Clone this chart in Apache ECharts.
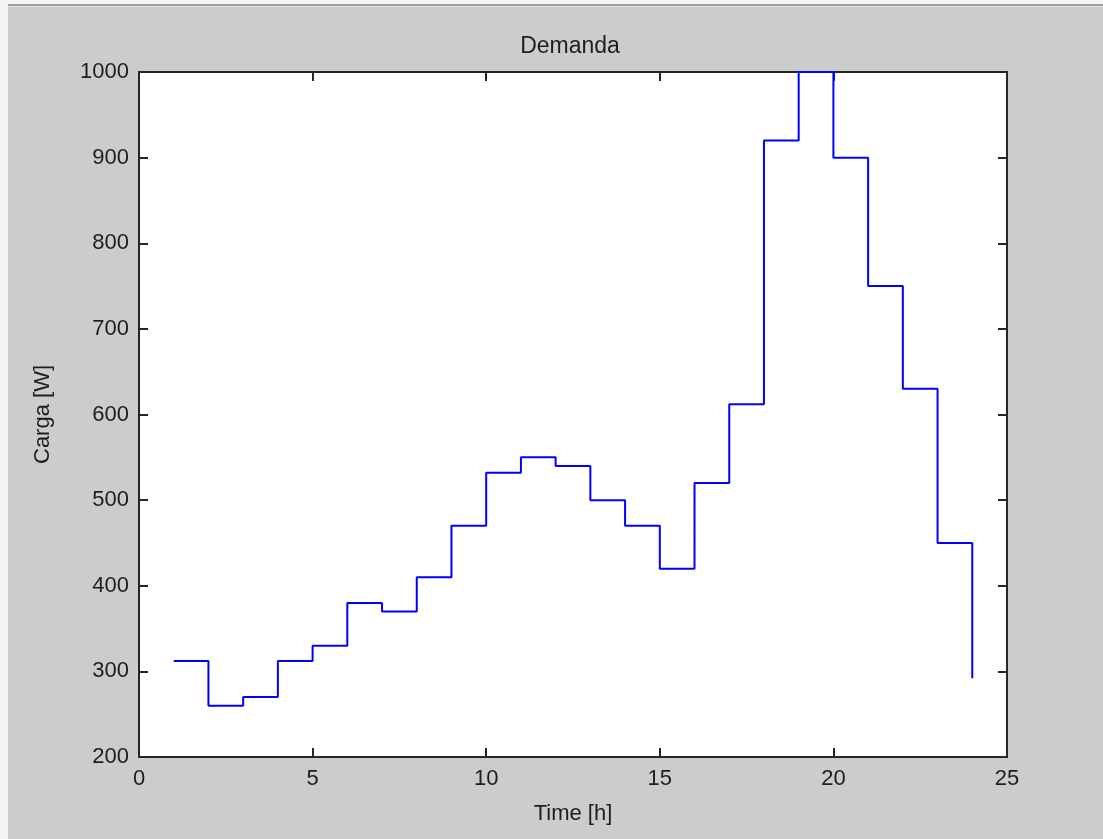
<!DOCTYPE html>
<html>
<head>
<meta charset="utf-8">
<title>Demanda</title>
<script src="https://cdn.jsdelivr.net/npm/echarts@6/dist/echarts.min.js"></script>
<style>
  html, body { margin: 0; padding: 0; background: #ffffff; }
  #chart { width: 1103px; height: 839px; }
</style>
</head>
<body>
<div id="chart"></div>
<script>
// Hourly load profile (stairs plot)
const hours = [1, 2, 3, 4, 5, 6, 7, 8, 9, 10, 11, 12, 13, 14, 15, 16, 17, 18, 19, 20, 21, 22, 23, 24];
const loadW = [312, 260, 270, 312, 330, 380, 370, 410, 470, 532, 550, 540, 500, 470, 420, 520, 612, 920, 1000, 900, 750, 630, 450, 292];

const xTicks = { min: 0, max: 25, interval: 5 };
const yTicks = { min: 200, max: 1000, interval: 100 };

const textColor = '#1e1e1e';
const axisColor = '#262626';
const font = '"Liberation Sans", Arial, sans-serif';

const chart = echarts.init(document.getElementById('chart'), null, { renderer: 'canvas' });

const tickStyle = { show: true, inside: true, length: 9, lineStyle: { color: axisColor, width: 2 } };
const hiddenLine = { show: false, onZero: false };

chart.setOption({
  backgroundColor: '#cccccc',
  animation: false,
  graphic: [
    { type: 'rect', silent: true, z: 100, shape: { x: 0, y: 0, width: 1103, height: 4 }, style: { fill: '#f4f4f4' } },
    { type: 'rect', silent: true, z: 100, shape: { x: 0, y: 4, width: 1103, height: 2 }, style: { fill: '#9c9c9c' } },
    { type: 'rect', silent: true, z: 100, shape: { x: 0, y: 6, width: 1103, height: 1 }, style: { fill: '#e8e8e8' } },
    { type: 'rect', silent: true, z: 100, shape: { x: 0, y: 0, width: 8, height: 839 }, style: { fill: '#f4f4f4' } }
  ],
  title: {
    text: 'Demanda',
    left: 565,
    top: 30,
    textAlign: 'center',
    textStyle: { color: textColor, fontFamily: font, fontSize: 23, fontWeight: 'normal' }
  },
  grid: {
    left: 139, right: 96, top: 72, bottom: 82,
    show: true,
    backgroundColor: '#ffffff',
    borderColor: axisColor,
    borderWidth: 2
  },
  xAxis: [
    {
      type: 'value',
      position: 'bottom',
      min: xTicks.min, max: xTicks.max, interval: xTicks.interval,
      name: 'Time [h]',
      nameLocation: 'middle',
      nameGap: 46,
      nameTextStyle: { color: textColor, fontFamily: font, fontSize: 22 },
      axisLine: hiddenLine,
      axisTick: tickStyle,
      axisLabel: { color: textColor, fontFamily: font, fontSize: 22, margin: 11 },
      splitLine: { show: false }
    },
    {
      type: 'value',
      position: 'top',
      min: xTicks.min, max: xTicks.max, interval: xTicks.interval,
      axisLine: hiddenLine,
      axisTick: tickStyle,
      axisLabel: { show: false },
      splitLine: { show: false }
    }
  ],
  yAxis: [
    {
      type: 'value',
      position: 'left',
      min: yTicks.min, max: yTicks.max, interval: yTicks.interval,
      name: 'Carga [W]',
      nameLocation: 'middle',
      nameGap: 85,
      nameTextStyle: { color: textColor, fontFamily: font, fontSize: 22 },
      axisLine: hiddenLine,
      axisTick: tickStyle,
      axisLabel: { color: textColor, fontFamily: font, fontSize: 22, margin: 10, formatter: (v) => String(v) },
      splitLine: { show: false }
    },
    {
      type: 'value',
      position: 'right',
      min: yTicks.min, max: yTicks.max, interval: yTicks.interval,
      axisLine: hiddenLine,
      axisTick: tickStyle,
      axisLabel: { show: false },
      splitLine: { show: false }
    }
  ],
  series: [
    {
      type: 'line',
      step: 'end',
      xAxisIndex: 0,
      yAxisIndex: 0,
      data: hours.map((h, i) => [h, loadW[i]]),
      showSymbol: false,
      lineStyle: { color: '#0000ff', width: 2 },
      clip: false
    }
  ]
});
</script>
</body>
</html>
